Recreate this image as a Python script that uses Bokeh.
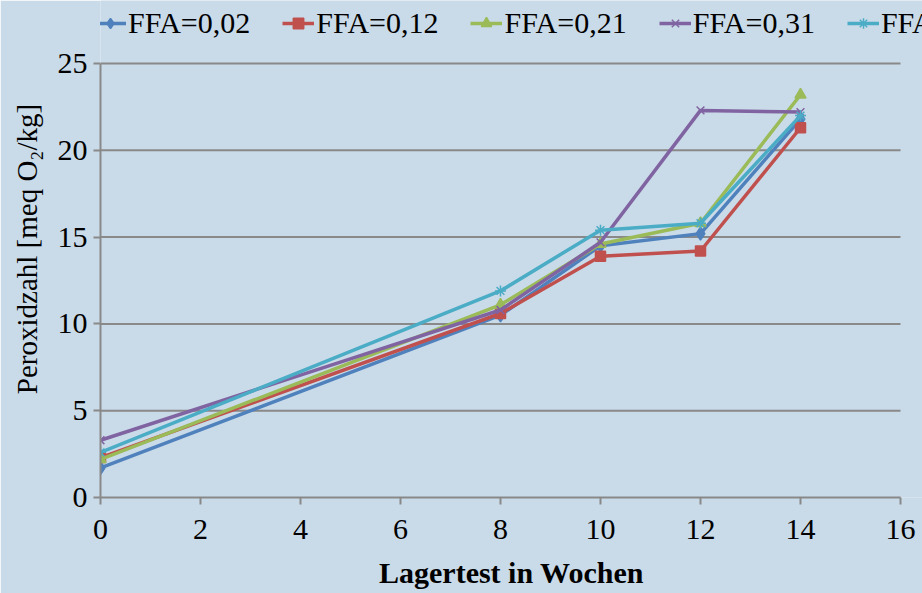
from bokeh.plotting import figure
from bokeh.models import Legend, LegendItem, Range1d, FixedTicker
from bokeh.embed import file_html
from bokeh.resources import INLINE

weeks = [0, 8, 10, 12, 14]
ffa_002 = [1.7, 10.5, 14.5, 15.2, 21.8]
ffa_012 = [2.3, 10.6, 13.9, 14.2, 21.3]
ffa_021 = [2.2, 11.1, 14.6, 15.8, 23.2]
ffa_031 = [3.3, 10.8, 14.7, 22.3, 22.2]
ffa_5 = [2.6, 11.9, 15.4, 15.8, 22.0]
labels = ["FFA=0,02", "FFA=0,12", "FFA=0,21", "FFA=0,31", "FFA"]
x_ticks = [0, 2, 4, 6, 8, 10, 12, 14, 16]
y_ticks = [0, 5, 10, 15, 20, 25]
x_max = 16
y_max = 25

BG = "#C9DAE8"
GRID = "#898989"
FONT = "'Liberation Serif', 'Times New Roman', serif"

# frame runs to the top/right edges so the legend can sit above the plotted area
p = figure(width=922, height=593, output_backend="svg", toolbar_location=None,
           x_range=Range1d(0, 16.44), y_range=Range1d(0, 28.63),
           min_border_left=100, min_border_right=0, min_border_top=0, min_border_bottom=96)
p.background_fill_color = BG
p.border_fill_color = BG
p.outline_line_color = None
p.xgrid.grid_line_color = None
p.ygrid.grid_line_color = None

# horizontal gridlines limited to the axis extent
p.segment(x0=[0] * len(y_ticks[1:]), x1=[x_max] * len(y_ticks[1:]),
          y0=y_ticks[1:], y1=y_ticks[1:], line_color=GRID, line_width=2)

p.xaxis.ticker = FixedTicker(ticks=x_ticks)
p.yaxis.ticker = FixedTicker(ticks=y_ticks)
p.xaxis.bounds = (0, x_max)
p.yaxis.bounds = (0, y_max)
for ax in (p.xaxis, p.yaxis):
    ax.axis_line_color = GRID
    ax.axis_line_width = 2
    ax.major_tick_line_color = GRID
    ax.major_tick_line_width = 2
    ax.major_tick_out = 7
    ax.major_tick_in = 0
    ax.minor_tick_line_color = None
    ax.major_label_text_font = FONT
    ax.major_label_text_font_size = "30px"
    ax.major_label_text_color = "black"
    ax.axis_label_text_font = FONT
    ax.axis_label_text_color = "black"

p.xaxis.axis_label = "Lagertest in Wochen"
p.xaxis.axis_label_text_font_style = "bold"
p.xaxis.axis_label_text_font_size = "30px"
p.xaxis.major_label_standoff = 15
p.xaxis.axis_label_standoff = 14
p.yaxis.axis_label = "Peroxidzahl [meq O₂/kg]"
p.yaxis.axis_label_text_font_style = "normal"
p.yaxis.axis_label_text_font_size = "29px"
p.yaxis.major_label_standoff = 6
p.yaxis.axis_label_standoff = 12

series = [
    (ffa_002, "#4F81BD", "diamond", 13),
    (ffa_012, "#C0504D", "square", 10),
    (ffa_021, "#9BBB59", "triangle", 11),
    (ffa_031, "#8064A2", "x", 11),
    (ffa_5, "#4BACC6", "asterisk", 11),
]
items = []
for (vals, col, mk, sz), lab in zip(series, labels):
    r1 = p.line(weeks, vals, line_color=col, line_width=3.5)
    r2 = p.scatter(weeks, vals, marker=mk, size=sz, fill_color=col, line_color=col, line_width=1.5)
    items.append(LegendItem(label=lab, renderers=[r1, r2]))

legend = Legend(items=items, orientation="horizontal", location=(-6, 457),
                label_text_font=FONT, label_text_font_size="30px", label_text_color="black",
                glyph_width=32, glyph_height=26, label_standoff=2, spacing=32,
                padding=0, margin=0, background_fill_alpha=0, border_line_color=None)
p.add_layout(legend, "center")

html = file_html(p, INLINE)
open("out.html", "w").write(html)
